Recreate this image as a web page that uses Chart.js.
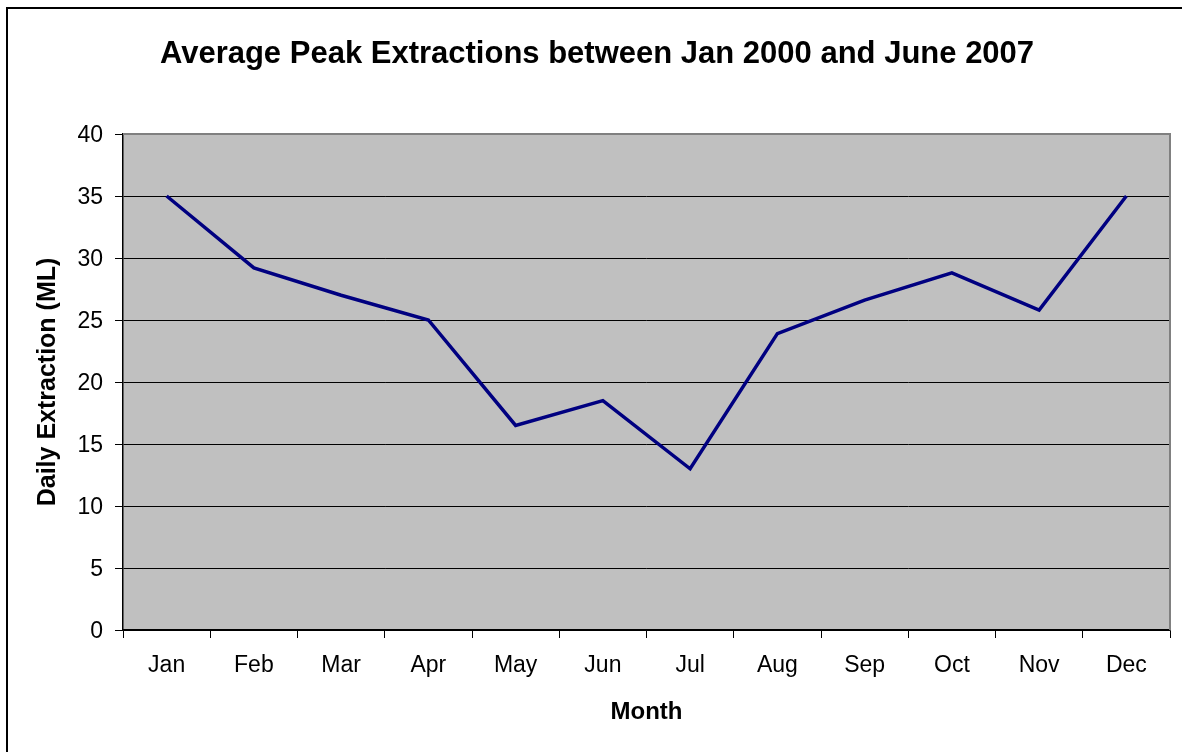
<!DOCTYPE html>
<html>
<head>
<meta charset="utf-8">
<title>Average Peak Extractions</title>
<script src="https://cdn.jsdelivr.net/npm/chart.js@4.4.1/dist/chart.umd.min.js"></script>
<style>
  html, body { margin: 0; padding: 0; background: #fff; }
  #wrap { width: 1182px; height: 752px; }
</style>
</head>
<body>
<div id="wrap"><canvas id="c" width="1182" height="752"></canvas></div>
<script>
// Monthly averages of daily peak extraction (ML)
const months = ['Jan', 'Feb', 'Mar', 'Apr', 'May', 'Jun', 'Jul', 'Aug', 'Sep', 'Oct', 'Nov', 'Dec'];
const extraction = [35.0, 29.2, 27.0, 25.0, 16.5, 18.5, 13.0, 23.9, 26.6, 28.8, 25.8, 35.0];
const yTickValues = [0, 5, 10, 15, 20, 25, 30, 35, 40];

const FONT = "'Liberation Sans', Arial, Helvetica, sans-serif";

// Grey plot background, plot frame and the outer chart border
const framePlugin = {
  id: 'frame',
  beforeDraw(chart) {
    const { ctx, chartArea: a } = chart;
    ctx.save();
    ctx.fillStyle = '#ffffff';
    ctx.fillRect(0, 0, chart.width, chart.height);
    ctx.fillStyle = '#c0c0c0';
    ctx.fillRect(a.left, a.top, a.right - a.left, a.bottom - a.top);
    ctx.restore();
  },
  afterDatasetsDraw(chart) {
    const { ctx, chartArea: a } = chart;
    ctx.save();
    ctx.strokeStyle = '#808080';
    ctx.lineWidth = 2;
    ctx.beginPath();
    ctx.moveTo(a.left, a.top);
    ctx.lineTo(a.right, a.top);
    ctx.lineTo(a.right, a.bottom);
    ctx.stroke();
    ctx.restore();
  },
  afterDraw(chart) {
    const { ctx } = chart;
    ctx.save();
    ctx.strokeStyle = '#000000';
    ctx.lineWidth = 2;
    ctx.strokeRect(7, 8, chart.width + 50, chart.height + 50);
    ctx.restore();
  }
};

new Chart(document.getElementById('c'), {
  type: 'line',
  data: {
    labels: months,
    datasets: [{
      label: 'Daily Extraction',
      data: extraction,
      borderColor: '#000080',
      borderWidth: 3.5,
      pointRadius: 0,
      pointHoverRadius: 0,
      tension: 0,
      fill: false,
      borderJoinStyle: 'miter'
    }]
  },
  options: {
    responsive: false,
    animation: false,
    events: [],
    layout: { padding: { left: 12, right: 0, top: 0, bottom: 0 } },
    plugins: {
      legend: { display: false },
      tooltip: { enabled: false },
      title: {
        display: true,
        text: 'Average Peak Extractions between Jan 2000 and June 2007',
        color: '#000',
        font: { family: FONT, size: 31, weight: 'bold', lineHeight: 1.2 },
        padding: { top: 35.4, bottom: 61.4 }
      }
    },
    scales: {
      x: {
        type: 'category',
        offset: true,
        grid: {
          offset: true,
          drawOnChartArea: false,
          drawTicks: true,
          tickLength: 8,
          tickColor: '#000',
          tickWidth: 1
        },
        border: { display: true, color: '#000', width: 1.5 },
        ticks: {
          color: '#000',
          font: { family: FONT, size: 23 },
          padding: 14,
          maxRotation: 0,
          autoSkip: false
        },
        title: {
          display: true,
          text: 'Month',
          color: '#000',
          font: { family: FONT, size: 24, weight: 'bold', lineHeight: 1.2 },
          padding: { top: 0, bottom: 25 }
        },
        afterFit(scale) { scale.height = 122; }
      },
      y: {
        type: 'linear',
        position: 'left',
        min: 0,
        max: 40,
        afterBuildTicks(scale) {
          scale.ticks = yTickValues.map(v => ({ value: v }));
        },
        grid: {
          color: ctx => (ctx.tick && ctx.tick.value === 40 ? '#808080' : '#000000'),
          lineWidth: 1,
          drawTicks: true,
          tickLength: 8,
          tickColor: '#000',
          tickWidth: 1
        },
        border: { display: true, color: '#000', width: 1.5 },
        ticks: {
          color: '#000',
          font: { family: FONT, size: 23 },
          padding: 12,
          labelOffset: 2
        },
        title: {
          display: true,
          text: 'Daily Extraction (ML)',
          color: '#000',
          font: { family: FONT, size: 25, weight: 'bold', lineHeight: 1.2 },
          padding: { top: 21, bottom: 0 }
        },
        afterFit(scale) { scale.width = 111; }
      },
      yRight: {
        type: 'linear',
        position: 'right',
        display: true,
        grid: { display: false, drawTicks: false },
        border: { display: false },
        ticks: { display: false },
        afterFit(scale) { scale.width = 12; }
      }
    }
  },
  plugins: [framePlugin]
});
</script>
</body>
</html>
